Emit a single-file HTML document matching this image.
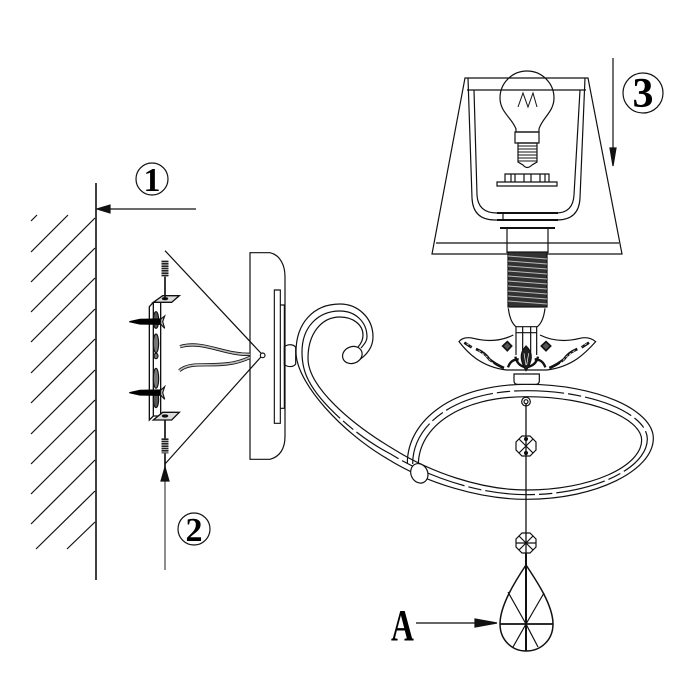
<!DOCTYPE html>
<html><head><meta charset="utf-8"><style>html,body{margin:0;padding:0;background:#fff}svg{display:block}text{font-family:"Liberation Serif",serif;font-weight:bold;fill:#000}</style></head>
<body>
<svg width="700" height="700" viewBox="0 0 700 700" fill="none" stroke="#111" stroke-width="1.2">
<!-- wall -->
<path d="M96 183V580" stroke-width="1.6"/>
<path d="M37 215L31 221M68 215L31 252M95 218L31 282M95 248L31 312M95 278L31 342M95 309L31 373M95 339L31 403M95 370L31 434M95 400L31 464M95 430L31 494M95 460L31 524M95 491L36 549M95 522L67 549" stroke-width="1.2"/>
<!-- arrow 1 -->
<path d="M196 209H108" />
<path d="M97 209L110 205V213Z" fill="#111"/>
<circle cx="152" cy="179" r="16"/>
<text x="152" y="191" font-size="34" text-anchor="middle" stroke="none">1</text>
<!-- arrow 2 -->
<path d="M165 570V480" stroke="#444"/>
<path d="M165 467L161 481H169Z" fill="#111"/>
<circle cx="194" cy="529" r="16"/>
<text x="194" y="541" font-size="34" text-anchor="middle" stroke="none">2</text>
<!-- arrow 3 -->
<path d="M613 58V150"/>
<path d="M613 166L610 148H616Z" fill="#111"/>
<circle cx="643" cy="93" r="20"/>
<text x="643" y="107" font-size="42" text-anchor="middle" stroke="none">3</text>
<!-- shade -->
<path d="M465 78H588L622 254H432Z M467 90H586 M436 243H619"/>
<path d="M468 78L472 198Q473 220 495 220H557Q579 220 580 198L585 78"/>
<path d="M474 90L477 195Q478 213 497 213H556Q573 213 574 195L580 90"/>
<path d="M497 213H558M497 220H558" stroke-width="2"/>
<path d="M503 213V220"/>
<!-- bulb -->
<path d="M516 132V129C512 118 500 112 500 98A27 27 0 0 1 554 98C554 112 542 118 539 129V132Z"/>
<path d="M515 132H539V143H515Z"/>
<path d="M518 143V162L523 165Q527 170 532 165L537 162V143Z"/>
<path d="M518 146H537M518 149H537M518 152H537M518 155H537M518 158H537M518 161H537" stroke-width="1"/>
<path d="M518 107L523 93L528 107L533 93L537 107" stroke-width="1"/>
<!-- disc -->
<path d="M497 182H557V186H497Z"/>
<path d="M505 182V174H549V182M511 174V182M515 174V182M524 174V182M531 174V182M540 174V182M545 174V182"/>
<!-- socket -->
<path d="M500 228H555" stroke-width="2"/>
<path d="M507 229V253M548 229V253M509 253H547"/>
<rect x="508" y="252" width="39" height="55" fill="#333" stroke="#111"/>
<path d="M508 256L547 259M508 261L547 264M508 266L547 269M508 271L547 274M508 276L547 279M508 281L547 284M508 286L547 289M508 291L547 294M508 296L547 299M508 301L547 304" stroke="#bbb" stroke-width="1"/>
<!-- bracket group -->
<g transform="translate(120 240) scale(.33333)" stroke-width="3.4">
<path d="M390 38H450C480 45 495 75 495 110V590C495 625 480 650 450 658H390Z" stroke-width="3.6"/>
<path d="M135 32L428 345L135 672" stroke-width="3.6"/>
<circle cx="428" cy="346" r="7" fill="#fff"/>
<path d="M463 150H481V550H463Z M481 195H493V505H481Z"/>
<path d="M493 320C505 312 520 312 527 322V372C520 382 505 382 493 374Z"/>
<path d="M180 320C250 300 310 345 390 343" stroke-width="10"/>
<path d="M180 320C250 300 310 345 390 343" stroke="#bbb" stroke-width="5"/>
<path d="M178 392C220 355 300 395 390 352" stroke-width="10"/>
<path d="M178 392C220 355 300 395 390 352" stroke="#bbb" stroke-width="5"/>
<path d="M88 200L100 187H122V528H100L88 540Z M100 187V528" stroke-width="4" fill="#fff"/>
<path d="M128 167H178L155 187H100Z M128 517H178L155 540H100Z" fill="#ddd" stroke-width="4"/>
<path d="M135 110V175M135 540V595M135 640V690" stroke-width="5"/>
<path d="M135 62V110M135 595V640" stroke="#222" stroke-width="21" stroke-dasharray="5 2"/>
<ellipse cx="135" cy="176" rx="8" ry="3" fill="#000"/>
<ellipse cx="135" cy="528" rx="8" ry="3" fill="#000"/>
<ellipse cx="108" cy="240" rx="8" ry="25" fill="#555"/>
<ellipse cx="108" cy="310" rx="8" ry="28" fill="#777"/>
<ellipse cx="108" cy="348" rx="6" ry="8" fill="#777"/>
<ellipse cx="108" cy="415" rx="8" ry="30" fill="#777"/>
<ellipse cx="108" cy="478" rx="8" ry="25" fill="#555"/>
<path d="M28 245L60 238L122 237V253L60 252Z M28 458L60 451L122 450V466L60 465Z" fill="#000" stroke="#000"/>
<path d="M122 238L134 228L128 245L134 265L122 252Z M122 451L134 440L128 458L134 478L122 465Z" fill="#ccc"/>
</g>
<!-- arm group -->
<g transform="translate(280 290) scale(.33333)" stroke-width="3.6">
<path d="M230 215C262 195 279 170 279 141C279 80 230 42 180 42C100 42 48 100 48 186C48 280 190 430 320 505C440 580 600 628 740 628C950 628 1120 540 1120 445C1120 360 950 283 740 283C520 283 382 390 382 520"/>
<path d="M234 171C244 160 249 150 249 135C249 105 220 81 180 81C125 81 84 130 84 205C84 290 210 400 345 480C450 545 600 600 740 600C930 600 1085 530 1085 450C1085 385 930 320 740 320C540 320 415 410 415 525"/>
<path d="M243 174C255 160 261 152 261 141C261 95 225 63 180 63C115 63 66 110 66 186C66 215 72 245 85 270"/>
<path d="M85 270C120 340 230 440 332 492C445 562 600 614 740 614C940 614 1102 535 1102 447C1102 372 940 302 740 302C530 302 398 400 398 522" stroke-dasharray="150 12 40 12"/>
<ellipse cx="418" cy="550" rx="25" ry="30" transform="rotate(-25 418 550)" fill="#fff"/>
<ellipse cx="217" cy="195" rx="30" ry="25" transform="rotate(-22 217 195)" fill="#fff"/>
<!-- stem and bowl -->
<path d="M685 55C688 80 695 100 708 110H772C785 100 792 80 795 55"/>
<path d="M708 110V195M770 110V195M708 128H770M728 110V190M752 110V190" />
<path d="M700 135C660 155 620 155 580 145C560 140 545 145 537 155C560 185 600 230 680 240H800C880 230 920 185 947 155C935 145 920 140 900 145C860 155 820 155 780 135"/>
<g stroke-width="8">
<path d="M553 158L575 172M588 177Q615 188 628 208Q648 224 672 234"/>
<path transform="matrix(-1 0 0 1 1480 0)" d="M553 158L575 172M588 177Q615 188 628 208Q648 224 672 234"/>
<path d="M684 232Q692 208 716 208M796 232Q788 208 764 208" stroke-width="7"/>
<path d="M706 200Q712 228 738 232Q768 228 774 200" stroke-width="7"/>
</g>
<path d="M596 181L622 201L640 222M884 181L858 201L840 222M560 161L572 169M920 161L908 169" stroke="#fff" stroke-width="2" stroke-dasharray="8 5"/>
<path d="M738 168C716 190 722 215 738 242C756 215 762 190 738 168Z" fill="#222"/>
<path d="M732 190L738 225M746 190L740 225" stroke="#fff" stroke-width="2"/>
<path d="M682 155L695 168L682 182L668 168Z M798 155L812 168L798 182L784 168Z" fill="#555" stroke-width="5"/>
<path d="M702 252H778V272Q778 283 768 283H712Q702 283 702 272Z" fill="#fff"/>
<!-- pendant top -->
<circle cx="738" cy="335" r="13"/><circle cx="738" cy="335" r="6"/>
</g>
<!-- chain -->
<path d="M526 404V565" stroke-width="1.3"/>
<path d="M522 436H530L536 442V450L530 456H522L516 450V442Z M519 439L533 453M533 439L519 453" />
<circle cx="526" cy="439" r="1.5" fill="#111"/><circle cx="526" cy="453" r="1.5" fill="#111"/>
<path d="M522 533H530L536 539V547L530 553H522L516 547V539Z M519 536L533 550M533 536L519 550M516 543H536" />
<path d="M526 553V651" stroke-width="2"/>
<path d="M526 565C516 580 500 605 500 624C500 640 512 651 526 651C541 651 553 640 553 624C553 605 536 580 526 565Z" stroke-width="1.5"/>
<path d="M500 624H553" stroke-width="1.8"/>
<path d="M526 624L508 592M526 624L544 593M526 624L513 647M526 624L538 647"/>
<!-- A -->
<text transform="translate(391 640) scale(.72 1)" font-size="44" stroke="none">A</text>
<path d="M416 623H478" stroke="#333" stroke-width="1.5"/>
<path d="M497 623L475 619V627Z" fill="#111"/>
</svg>
</body></html>
